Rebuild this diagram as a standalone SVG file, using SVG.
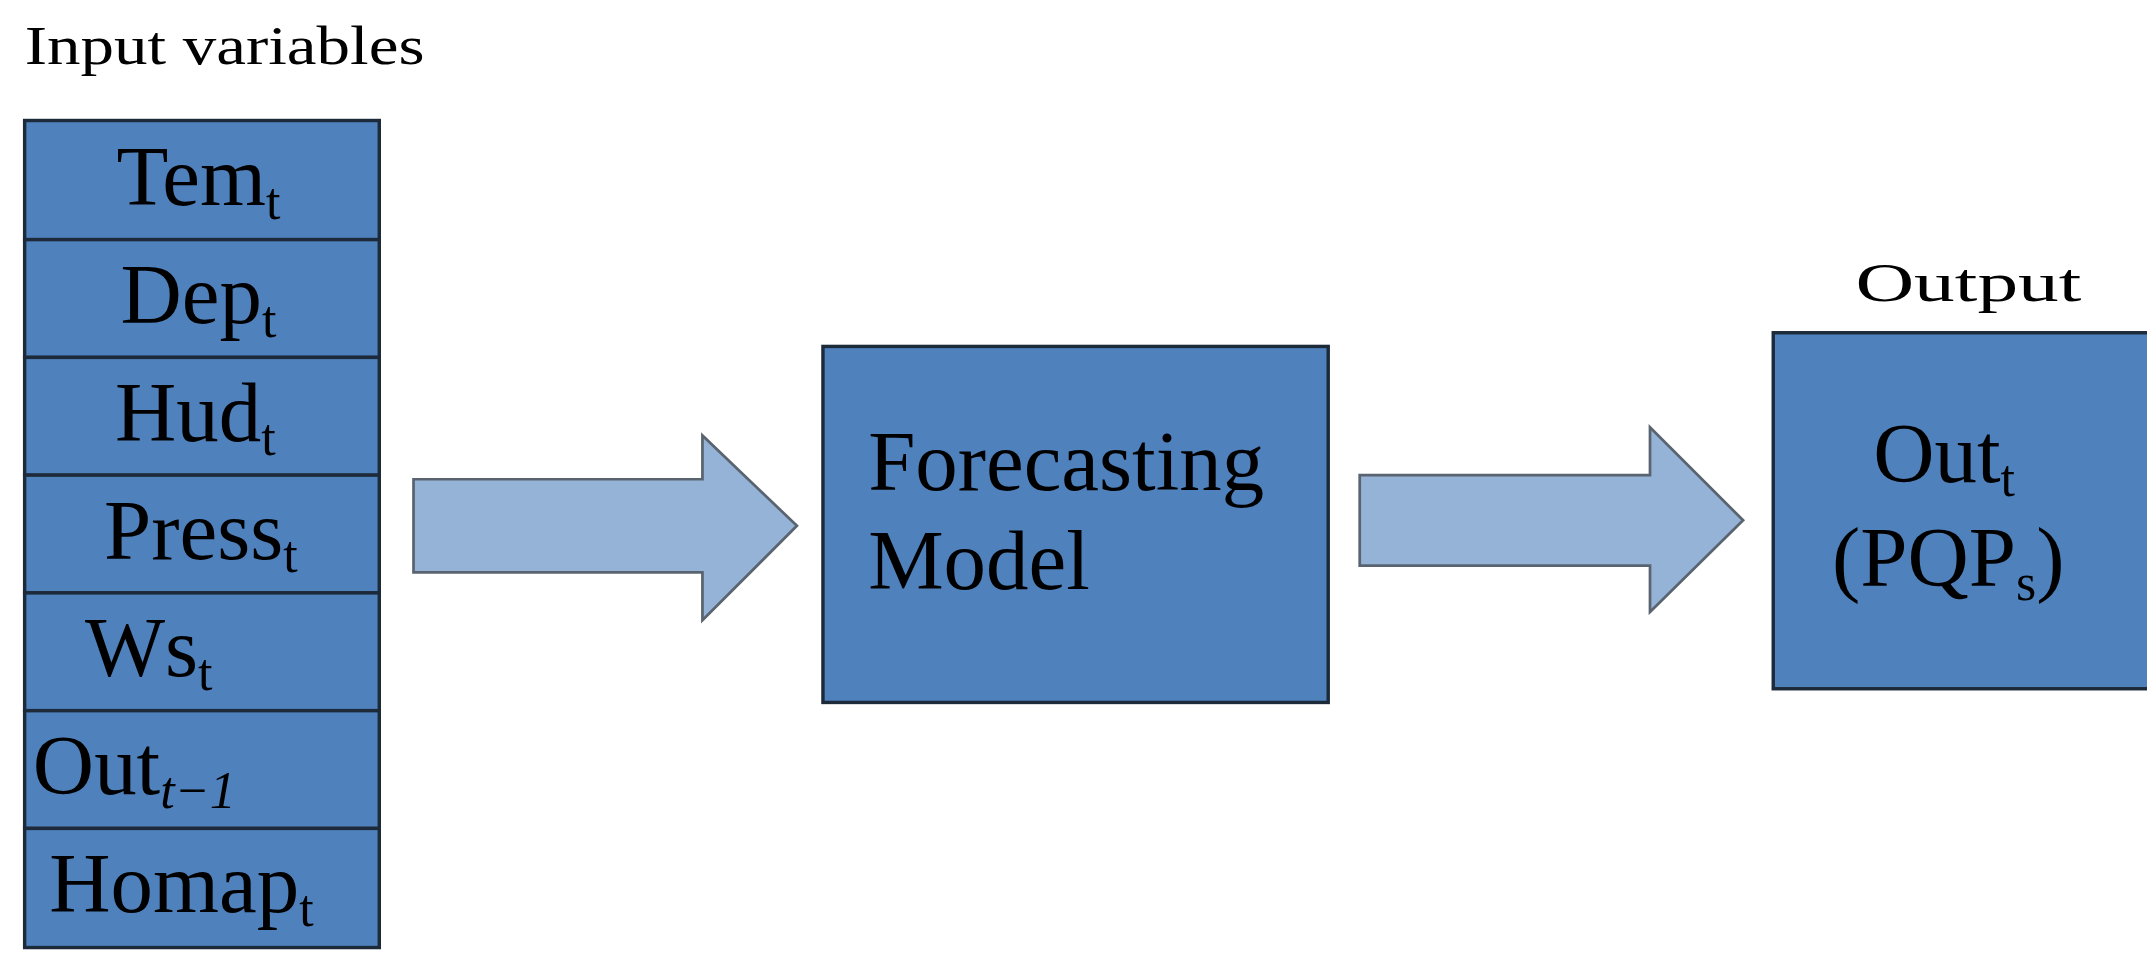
<svg xmlns="http://www.w3.org/2000/svg" width="2147" height="968" viewBox="0 0 2147 968">
<style>
.box{fill:#4F81BD;stroke:#1c2a3a;stroke-width:2.5}
.arr{fill:#95B3D7;stroke:#5a6470;stroke-width:2}
.t{font-family:"Liberation Serif",serif;font-size:62px;fill:#000}
.s{font-size:38px}
.cap{font-family:"Liberation Serif",serif;font-size:40px;fill:#000}
</style>
<rect width="2147" height="968" fill="#fff"/>
<g transform="scale(1.3693)">
<text class="cap" x="18" y="47" textLength="292" lengthAdjust="spacingAndGlyphs">Input variables</text>
<text class="cap" x="1355" y="220" textLength="165" lengthAdjust="spacingAndGlyphs">Output</text>
<g id="inputs">
<g id="tem"><rect class="box" x="18" y="88" width="259" height="87"/><text class="t" x="85" y="150">Tem<tspan class="s" dy="10">t</tspan></text></g>
<g id="dep"><rect class="box" x="18" y="175" width="259" height="86"/><text class="t" x="88" y="236">Dep<tspan class="s" dy="10">t</tspan></text></g>
<g id="hud"><rect class="box" x="18" y="261" width="259" height="86"/><text class="t" x="84" y="322">Hud<tspan class="s" dy="10">t</tspan></text></g>
<g id="press"><rect class="box" x="18" y="347" width="259" height="86"/><text class="t" x="76" y="408">Press<tspan class="s" dy="10">t</tspan></text></g>
<g id="ws"><rect class="box" x="18" y="433" width="259" height="86"/><text class="t" x="62" y="494">Ws<tspan class="s" dy="10">t</tspan></text></g>
<g id="out1"><rect class="box" x="18" y="519" width="259" height="86"/><text class="t" x="24" y="580">Out<tspan class="s" dy="10" font-style="italic">t−1</tspan></text></g>
<g id="homap"><rect class="box" x="18" y="605" width="259" height="87"/><text class="t" x="36" y="666">Homap<tspan class="s" dy="10">t</tspan></text></g>
</g>
<g id="connectors">
<polygon class="arr" points="302,350 513,350 513,318 582,384 513,453 513,418 302,418"/>
<polygon class="arr" points="993,347 1205,347 1205,312 1273,380 1205,447 1205,413 993,413"/>
</g>
<g id="model"><rect class="box" x="601" y="253" width="369" height="260"/><text class="t" x="634" y="358">Forecasting</text><text class="t" x="634" y="430">Model</text></g>
<g id="output"><rect class="box" x="1295" y="243" width="305" height="260"/><text class="t" x="1368" y="352">Out<tspan class="s" dy="10">t</tspan></text><text class="t" x="1338" y="428">(PQP<tspan class="s" dy="10">s</tspan><tspan dy="-10">)</tspan></text></g>
</g>
</svg>
